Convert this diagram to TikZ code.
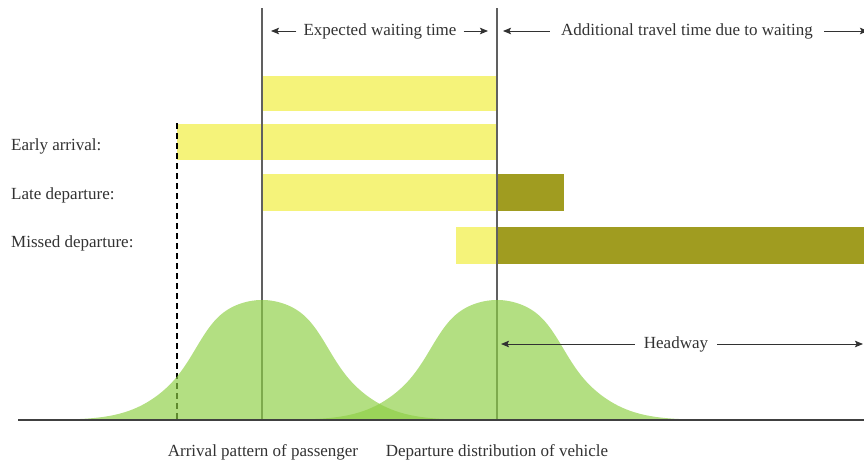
\documentclass[tikz,border=0pt]{standalone}
\usepackage{fontspec}
\setmainfont{Liberation Serif}
\usetikzlibrary{arrows.meta}
\definecolor{waityellow}{RGB}{245,243,122}
\definecolor{extraolive}{RGB}{160,156,32}
\definecolor{bellgreen}{RGB}{142,207,69}
\definecolor{guide}{RGB}{96,96,96}
\definecolor{axisgray}{RGB}{64,64,64}
\definecolor{txt}{RGB}{50,50,50}
\begin{document}
\begin{tikzpicture}[x=1pt,y=-1pt,
  % bell profile with a slightly flattened top, height 1 at t=0
  declare function={bump(\t)=exp(-0.6126*\t*\t*(1-0.55*exp(-min(\t*\t*\t*\t,20))));},
  lbl/.style={font=\fontsize{17}{20}\selectfont,text=txt,inner sep=0pt},
  spanlbl/.style={lbl,inner xsep=7pt},
  arr/.style={-{Stealth[length=8pt,width=6.5pt,inset=1.5pt]},line width=1pt,draw=txt},
  waitbar/.style={fill=waityellow},
  extrabar/.style={fill=extraolive},
  bell/.style={fill=bellgreen,fill opacity=0.67},
  guideline/.style={draw=guide,line width=1.4pt},
  dashguide/.style={draw=black,line width=1.1pt,dash pattern=on 6pt off 4pt}]
\useasboundingbox (0,0) rectangle (864,464);

% bars: waiting time (yellow) and extra travel time (olive)
\fill[waitbar] (262,76) rectangle (497,111);
\fill[waitbar] (177,124) rectangle (497,160);
\fill[waitbar] (262,174) rectangle (497,211);
\fill[extrabar] (497,174) rectangle (564,211);
\fill[waitbar] (456,227) rectangle (497,264);
\fill[extrabar] (497,227) rectangle (866,264);

% guide lines
\coordinate (arrTop) at (262,8);
\coordinate (arrBot) at (262,420);
\coordinate (depTop) at (497,8);
\coordinate (depBot) at (497,420);
\coordinate (earlyTop) at (177,123);
\coordinate (earlyBot) at (177,420);
\draw[guideline] (arrTop) -- (arrBot);
\draw[guideline] (depTop) -- (depBot);
\draw[dashguide] (earlyTop) -- (earlyBot);

% distributions of passenger arrival and vehicle departure
\fill[bell] plot[domain=22:502,samples=161,smooth] (\x,{420-120*bump((\x-262)/65)}) -- cycle;
\fill[bell] plot[domain=257:737,samples=161,smooth] (\x,{420-120*bump((\x-497)/65)}) -- cycle;

% time axis
\coordinate (axL) at (18,420);
\coordinate (axR) at (864,420);
\draw[draw=axisgray,line width=2pt] (axL) -- (axR);

% row labels
\node[lbl,anchor=west] (early) at (11,146) {Early arrival:};
\node[lbl,anchor=west] (late) at (11,195) {Late departure:};
\node[lbl,anchor=west] (missed) at (11,243) {Missed departure:};

% span annotations
\node[spanlbl] (ewt) at (380,31) {Expected waiting time};
\coordinate (ewtL) at (271,31);
\coordinate (ewtR) at (488,31);
\draw[arr] (ewt.west) -- (ewtL);
\draw[arr] (ewt.east) -- (ewtR);

\node[lbl,inner xsep=11pt] (att) at (687,31) {Additional travel time due to waiting};
\coordinate (attL) at (503,31);
\coordinate (attR) at (868,31);
\draw[arr] (att.west) -- (attL);
\draw[arr] (att.east) -- (attR);

\node[lbl,inner xsep=9pt] (hw) at (676,344) {Headway};
\coordinate (hwL) at (501,344);
\coordinate (hwR) at (863,344);
\draw[arr] (hw.west) -- (hwL);
\draw[arr] (hw.east) -- (hwR);

% distribution captions
\node[lbl] (arrcap) at (263,452) {Arrival pattern of passenger};
\node[lbl] (depcap) at (497,452) {Departure distribution of vehicle};
\end{tikzpicture}
\end{document}
